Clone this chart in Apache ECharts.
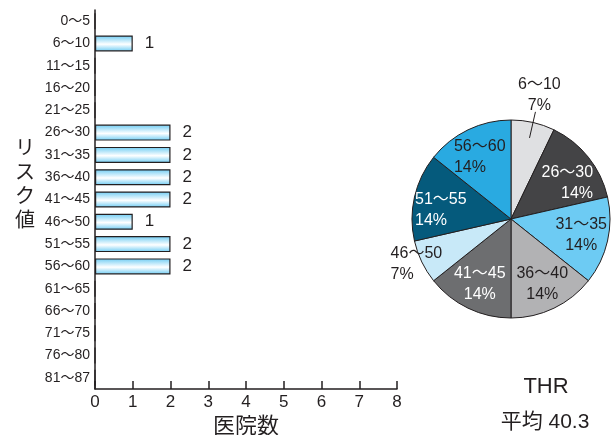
<!DOCTYPE html>
<html>
<head>
<meta charset="utf-8">
<script src="https://cdn.jsdelivr.net/npm/echarts@6/dist/echarts.min.js"></script>
<style>
html,body{margin:0;padding:0;background:#fff;}
#main{width:613px;height:435px;}
</style>
</head>
<body>
<div id="main"></div>
<script>
var categories = ['0〜5','6〜10','11〜15','16〜20','21〜25','26〜30','31〜35','36〜40','41〜45','46〜50','51〜55','56〜60','61〜65','66〜70','71〜75','76〜80','81〜87'];
var counts = [0,1,0,0,0,2,2,2,2,1,2,2,0,0,0,0,0];
var xTicks = [0,1,2,3,4,5,6,7,8];
var yAxisTitle = 'リスク値';
var xAxisTitle = '医院数';
var thrTitle = 'THR';
var thrAvg = '平均 40.3';

var sliceColors = {
  '6〜10':'#dfe0e2','26〜30':'#444446','31〜35':'#6dcbf3','36〜40':'#b2b2b4',
  '41〜45':'#6d6e70','46〜50':'#c8e9f8','51〜55':'#055a7c','56〜60':'#29aae1'
};
var darkSlices = ['26〜30','41〜45','51〜55'];
var lineAlign = {'6〜10':'C','26〜30':'R','31〜35':'C','36〜40':'C','41〜45':'C','46〜50':'L','51〜55':'L','56〜60':'L'};
var labelPadTop = {'26〜30':18,'51〜55':14,'56〜60':6};

var FONT = '"Liberation Sans","Noto Sans CJK JP",sans-serif';
var CX = 511, CY = 219, R = 99;
var pieData = [];
categories.forEach(function(c,i){ if(counts[i]>0) pieData.push({name:c,value:counts[i]}); });
var total = pieData.reduce(function(s,d){return s+d.value;},0);
function fmt(p){
  var k = lineAlign[p.name] || 'C';
  return '{' + k + '|' + p.name + '}\n{' + k + '|' + Math.round(p.percent) + '%}';
}
var rich = {L:{align:'left'}, R:{align:'right'}, C:{align:'center'}};

var mainPie = pieData.map(function(d){
  return {name:d.name, value:d.value, itemStyle:{color:sliceColors[d.name]}};
});
var insidePie = pieData.map(function(d){
  var big = d.value/total > 0.1;
  return {name:d.name, value:d.value,
    label:{show:big, color: darkSlices.indexOf(d.name)>=0 ? '#ffffff' : '#231f20',
      padding:[labelPadTop[d.name]||0,0,0,0]}};
});
var topPie = pieData.map(function(d){
  return {name:d.name, value:d.value, label:{show:d.name==='6〜10'}};
});
var leftPie = pieData.map(function(d){
  return {name:d.name, value:d.value, label:{show:d.name==='46〜50'}};
});
var ghostBase = {
  type:'pie', center:[CX,CY], startAngle:90, clockwise:true, silent:true,
  avoidLabelOverlap:false, labelLayout:{hideOverlap:false},
  itemStyle:{color:'transparent', borderWidth:0},
  label:{position:'inside', formatter:fmt, rich:rich, fontFamily:FONT, fontSize:16, lineHeight:21, color:'#231f20'},
  labelLine:{show:false}, emphasis:{disabled:true}, animation:false, z:5
};

// leader line for the 6〜10 slice, at the slice's mid-angle
var leaderIdx = 0, cum = 0;
for (var i = 0; i < leaderIdx; i++) cum += pieData[i].value;
var midA = (cum + pieData[leaderIdx].value/2) / total * Math.PI * 2;
var sx = Math.sin(midA), sy = -Math.cos(midA);

var chart = echarts.init(document.getElementById('main'), null, {renderer:'canvas'});
chart.setOption({
  animation:false,
  grid:{left:95, right:216, top:10, bottom:46, containLabel:false, outerBoundsMode:'none'},
  xAxis:{
    type:'value', min:0, max:8, interval:1,
    name:xAxisTitle, nameLocation:'middle', nameGap:25,
    nameTextStyle:{fontFamily:FONT, fontSize:22, color:'#231f20'},
    axisLine:{show:true, lineStyle:{color:'#231f20', width:1.5}},
    axisTick:{show:true, inside:true, length:8, lineStyle:{color:'#231f20', width:1.5}},
    axisLabel:{fontFamily:FONT, fontSize:17, color:'#231f20', margin:5,
      formatter:function(v){ return xTicks.indexOf(v)>=0 ? String(v) : ''; }},
    splitLine:{show:false}
  },
  yAxis:{
    type:'category', data:categories, inverse:true,
    axisLine:{show:true, lineStyle:{color:'#231f20', width:1.5}},
    axisTick:{show:false},
    axisLabel:{fontFamily:FONT, fontSize:14, color:'#231f20', margin:5},
    splitLine:{show:false}
  },
  series:[
    {
      type:'bar', data:counts, barWidth:16,
      itemStyle:{
        color:new echarts.graphic.LinearGradient(0,0,0,1,[
          {offset:0,color:'#6ccbf3'},{offset:0.55,color:'#ffffff'},{offset:1,color:'#6ccbf3'}]),
        borderColor:'#231f20', borderWidth:1.2
      },
      label:{show:true, position:'right', distance:12, fontFamily:FONT, fontSize:17, color:'#231f20',
        formatter:function(p){ return p.value>0 ? String(p.value) : ''; }},
      silent:true
    },
    {
      type:'pie', center:[CX,CY], radius:[0,R], startAngle:90, clockwise:true,
      data:mainPie, silent:true, animation:false,
      itemStyle:{borderColor:'#231f20', borderWidth:1},
      label:{show:false}, labelLine:{show:false},
      emphasis:{disabled:true}
    },
    Object.assign({}, ghostBase, {radius:[0,138], data:insidePie}),
    Object.assign({}, ghostBase, {radius:[0,249], data:topPie}),
    Object.assign({}, ghostBase, {radius:[0,204], data:leftPie})
  ],
  graphic:[
    {type:'line', silent:true, z:10, shape:{x1:CX+sx*R*0.84, y1:CY+sy*R*0.84, x2:CX+sx*R*1.11, y2:CY+sy*R*1.11},
      style:{stroke:'#231f20', lineWidth:1}},
    {type:'text', silent:true, style:{text:yAxisTitle.split('').join('\n'), x:25, y:185, align:'center', verticalAlign:'middle',
      font:'20px '+FONT, lineHeight:24, fill:'#231f20'}},
    {type:'text', silent:true, style:{text:thrTitle, x:546, y:387, align:'center', verticalAlign:'middle',
      font:'22px '+FONT, fill:'#231f20'}},
    {type:'text', silent:true, style:{text:thrAvg, x:545, y:422, align:'center', verticalAlign:'middle',
      font:'21px '+FONT, fill:'#231f20'}}
  ]
});
</script>
</body>
</html>
